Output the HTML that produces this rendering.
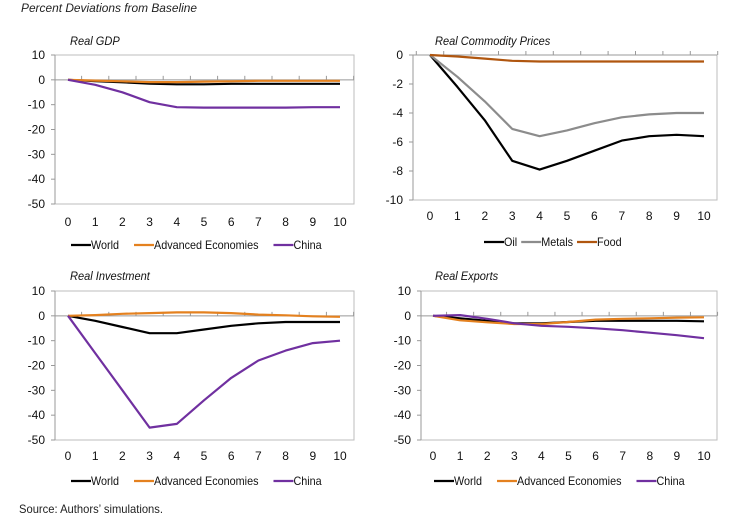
<!DOCTYPE html>
<html><head><meta charset="utf-8"><style>
body{margin:0;background:#fff;width:744px;height:522px;overflow:hidden}
svg{display:block;font-family:"Liberation Sans",Arial,sans-serif}
</style></head><body>
<svg id="c" width="744" height="522">
<text x="21" y="12" font-size="12" font-style="italic" fill="#222" textLength="176" lengthAdjust="spacingAndGlyphs">Percent Deviations from Baseline</text>
<text x="19" y="513" font-size="12" fill="#222" textLength="144" lengthAdjust="spacingAndGlyphs">Source: Authors’ simulations.</text>
</svg>
<script>
const periods=[0,1,2,3,4,5,6,7,8,9,10];
const gdpWorld=[0,-0.5,-1,-1.5,-1.8,-1.8,-1.6,-1.6,-1.6,-1.6,-1.6];
const gdpAdv=[0,-0.3,-0.6,-0.9,-0.9,-0.7,-0.6,-0.4,-0.4,-0.4,-0.4];
const gdpChina=[0,-2,-5,-9,-11,-11.2,-11.2,-11.2,-11.2,-11,-11];
const oilPrices=[0,-2.2,-4.5,-7.3,-7.9,-7.3,-6.6,-5.9,-5.6,-5.5,-5.6];
const metalPrices=[0,-1.5,-3.2,-5.1,-5.6,-5.2,-4.7,-4.3,-4.1,-4.0,-4.0];
const foodPrices=[0,-0.1,-0.25,-0.4,-0.45,-0.45,-0.45,-0.45,-0.45,-0.45,-0.45];
const invWorld=[0,-2,-4.5,-7,-7,-5.5,-4,-3,-2.5,-2.5,-2.5];
const invAdv=[0,0.3,0.8,1.1,1.4,1.4,1.1,0.5,0.2,-0.2,-0.4];
const invChina=[0,-15,-30,-45,-43.5,-34,-25,-18,-14,-11,-10];
const expWorld=[0,-1,-2,-3,-3,-2.5,-2,-2,-2,-2,-2.2];
const expAdv=[0,-1.8,-2.6,-3.3,-3.3,-2.5,-1.5,-1.2,-1,-0.7,-0.6];
const expChina=[0,0.3,-1.2,-3,-4,-4.4,-5,-5.8,-6.8,-7.8,-9];
const ticksA=[10,0,-10,-20,-30,-40,-50];
const ticksB=[0,-2,-4,-6,-8,-10];

const NS="http://www.w3.org/2000/svg";
const svg=document.getElementById('c');
function mk(tag,attrs,parent){const e=document.createElementNS(NS,tag);for(const k in attrs)e.setAttribute(k,attrs[k]);(parent||svg).appendChild(e);return e;}

function panel(p){
  const g=mk('g',{});
  
  
  const ymax=p.ticks[0],ymin=p.ticks[p.ticks.length-1];
  const ys=v=>p.top+(ymax-v)/(ymax-ymin)*(p.bottom-p.top);
  const step=(p.x10-p.x0)/10;
  const xs=i=>p.x0+i*step;
  const t=mk('text',{x:p.titleX,y:p.titleY,'font-size':12,'font-style':'italic',fill:'#111'},g);
  t.textContent=p.title;
  
  
  t.setAttribute('textLength',(t.getComputedTextLength()*0.92).toFixed(1));
  t.setAttribute('lengthAdjust','spacingAndGlyphs');
  const fr=mk('path',{d:`M${p.ax},${p.top}H${p.right}V${p.bottom}H${p.ax}Z`,fill:'none',stroke:'#bdbdbd','stroke-width':1},g);
  
  
  const ya=mk('line',{x1:p.ax,y1:p.top,x2:p.ax,y2:p.bottom,stroke:'#999'},g);
  
  
  p.ticks.forEach(v=>{
    const tl=mk('text',{x:p.ax-10,y:ys(v)+4,'font-size':12,'text-anchor':'end',fill:'#111'},g);
    tl.textContent=v;
    
    
    const tk=mk('line',{x1:p.ax-4,y1:ys(v),x2:p.ax,y2:ys(v),stroke:'#999'},g);
    
    
  });
  const z=ys(0);
  const xa=mk('line',{x1:p.ax,y1:z,x2:p.right,y2:z,stroke:'#999'},g);
  
  
  for(let i=0;i<=11;i++){
    const xx=p.x0-step/2+i*step;
    if(xx<p.ax+1)continue;
    const tk=mk('line',{x1:xx,y1:z-4,x2:xx,y2:z,stroke:'#999'},g);
    
    
  }
  periods.forEach((c,i)=>{
    const tl=mk('text',{x:xs(i),y:p.labelY,'font-size':12,'text-anchor':'middle',fill:'#111'},g);
    tl.textContent=c;
    
    
  });
  p.series.forEach(s=>{
    const d=s.data.map((v,i)=>(i?'L':'M')+xs(i).toFixed(1)+','+ys(v).toFixed(1)).join('');
    const pl=mk('path',{d:d,fill:'none',stroke:s.color,'stroke-width':2.2,'stroke-linejoin':'round'},g);
    
    
  });
  let lx=p.legX;
  p.series.forEach(s=>{
    const lg=mk('g',{},g);
    
    
    mk('line',{x1:lx,y1:p.legY-4,x2:lx+20,y2:p.legY-4,stroke:s.color,'stroke-width':2.2},lg);
    const lt=mk('text',{x:lx+20,y:p.legY,'font-size':12,fill:'#111'},lg);
    lt.textContent=s.label;
    const w=lt.getComputedTextLength()*0.9;
    lt.setAttribute('textLength',w.toFixed(1));
    lt.setAttribute('lengthAdjust','spacingAndGlyphs');
    lx+=20+w+p.legGap;
  });
}
const C={black:'#000',orange:'#E4811F',purple:'#7030A0',gray:'#8c8c8c',brown:'#B0560F'};
panel({name:'real-gdp',title:'Real GDP',titleX:70,titleY:45,ax:55,right:354,top:55,bottom:204,x0:68,x10:340,ticks:ticksA,labelY:226,legX:71,legY:249,legGap:15,
 series:[{key:'world',label:'World',color:C.black,data:gdpWorld},{key:'advanced',label:'Advanced Economies',color:C.orange,data:gdpAdv},{key:'china',label:'China',color:C.purple,data:gdpChina}]});
panel({name:'real-commodity-prices',title:'Real Commodity Prices',titleX:435,titleY:45,ax:413,right:717,top:55,bottom:200,x0:430,x10:704,ticks:ticksB,labelY:220,legX:484,legY:246,legGap:4,
 series:[{key:'oil',label:'Oil',color:C.black,data:oilPrices},{key:'metals',label:'Metals',color:C.gray,data:metalPrices},{key:'food',label:'Food',color:C.brown,data:foodPrices}]});
panel({name:'real-investment',title:'Real Investment',titleX:70,titleY:280,ax:55,right:354,top:291,bottom:440,x0:68,x10:340,ticks:ticksA,labelY:460,legX:71,legY:485,legGap:15,
 series:[{key:'world',label:'World',color:C.black,data:invWorld},{key:'advanced',label:'Advanced Economies',color:C.orange,data:invAdv},{key:'china',label:'China',color:C.purple,data:invChina}]});
panel({name:'real-exports',title:'Real Exports',titleX:435,titleY:280,ax:421,right:717,top:291,bottom:440,x0:433,x10:704,ticks:ticksA,labelY:460,legX:434,legY:485,legGap:15,
 series:[{key:'world',label:'World',color:C.black,data:expWorld},{key:'advanced',label:'Advanced Economies',color:C.orange,data:expAdv},{key:'china',label:'China',color:C.purple,data:expChina}]});
</script>
</body></html>
